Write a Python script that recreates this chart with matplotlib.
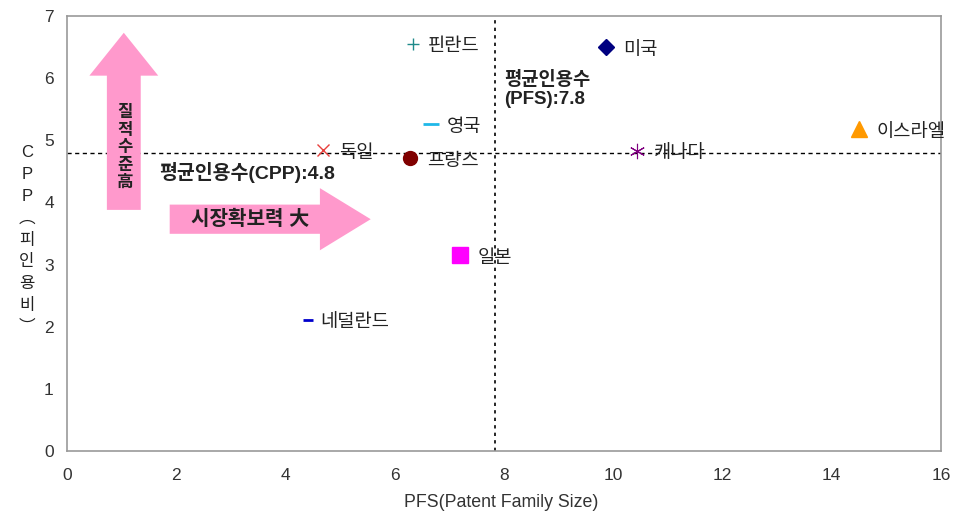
import matplotlib
matplotlib.use("Agg")
import matplotlib.pyplot as plt
from matplotlib.patches import FancyArrow

plt.rcParams['font.family'] = ['Liberation Sans', 'Noto Sans CJK KR', 'DejaVu Sans']

countries = ['핀란드', '미국', '영국', '독일', '프랑스', '캐나다', '이스라엘', '일본', '네덜란드']
pfs = [6.33, 9.87, 6.67, 4.69, 6.28, 10.43, 14.5, 7.2, 4.41]
cpp = [6.55, 6.5, 5.26, 4.84, 4.71, 4.83, 5.18, 3.15, 2.11]

avg_pfs = 7.83
avg_cpp = 4.8
xticks = [0, 2, 4, 6, 8, 10, 12, 14, 16]
yticks = [0, 1, 2, 3, 4, 5, 6, 7]

markers = ['+', 'D', '_', 'x', 'o', '*', '^', 's', '_']
colors = ['#1f8a8a', '#000080', '#1fb8e8', '#e8403c', '#800000', '#800080', '#ff9900', '#ff00ff', '#0000cc']
sizes = [8, 8, 11, 9, 10, 11, 11, 11, 7]
label_dx = [15, 17, 15, 16, 17, 17, 17, 17, 12]

fig = plt.figure(figsize=(9.61, 5.14), dpi=100)
ax = fig.add_axes([67 / 961, 1 - 451 / 514, 874 / 961, 435 / 514])
ax.set_xlim(0, 16)
ax.set_ylim(0, 7)

for s in ax.spines.values():
    s.set_color('#999999')
    s.set_linewidth(1.2)
ax.set_xticks(xticks)
ax.set_yticks(yticks)
ax.tick_params(axis='x', length=0, labelsize=12.5, colors='#333333', pad=12.5)
ax.tick_params(axis='y', length=0, labelsize=12.5, colors='#333333', pad=9.5)

# average lines
ax.axhline(avg_cpp, color='black', lw=1, ls=(0, (3, 2.5)), zorder=1)
ax.axvline(avg_pfs, color='black', lw=1.2, ls=(0, (2, 2.5)), zorder=1)

for name, x, y, m, c, sz, dx in zip(countries, pfs, cpp, markers, colors, sizes, label_dx):
    mew = 2 if m == '_' else 1
    if m == '*':
        # asterisk style marker
        m = (6, 2, 0)
        mew = 0.8
    ax.plot([x], [y], marker=m, color=c, ms=sz, mew=mew, ls='none', zorder=3)
    ax.annotate(name, (x, y), xytext=(dx, -3), textcoords='offset pixels',
                fontsize=13.5, color='#222222', va='center', ha='left', zorder=4, annotation_clip=False)

# pink arrows
ax.add_patch(FancyArrow(1.04, 3.88, 0, 2.85, width=0.62, head_width=1.26, head_length=0.69,
                        length_includes_head=True, color='#ff99cc', lw=0, zorder=2))
ax.add_patch(FancyArrow(1.88, 3.73, 3.68, 0, width=0.47, head_width=1.0, head_length=0.93,
                        length_includes_head=True, color='#ff99cc', lw=0, zorder=2))

ax.text(1.06, 4.88, '질\n적\n수\n준\n高', fontsize=12, fontweight='bold', color='#222222',
        ha='center', va='center', linespacing=1.2, zorder=4)
ax.text(3.36, 3.72, '시장확보력 大', fontsize=14.5, fontweight='bold', color='#222222',
        ha='center', va='center', zorder=4)
ax.text(1.69, 4.48, '평균인용수(CPP):4.8', fontsize=14, fontweight='bold', color='#222222',
        ha='left', va='center', zorder=4)
ax.text(8.0, 5.82, '평균인용수\n(PFS):7.8', fontsize=13.5, fontweight='bold', color='#222222',
        ha='left', va='center', multialignment='left', linespacing=1.12, zorder=4)

ax.set_xlabel('PFS(Patent Family Size)', fontsize=12.8, color='#333333')
ax.xaxis.set_label_coords(0.497, -0.099)
fig.text(27 / 961, 1 - 240 / 514, 'C\nP\nP\n︵\n피\n인\n용\n비\n︶', fontsize=12, color='#222222',
         ha='center', va='center', linespacing=1.58)

fig.savefig('out.png', dpi=100)
